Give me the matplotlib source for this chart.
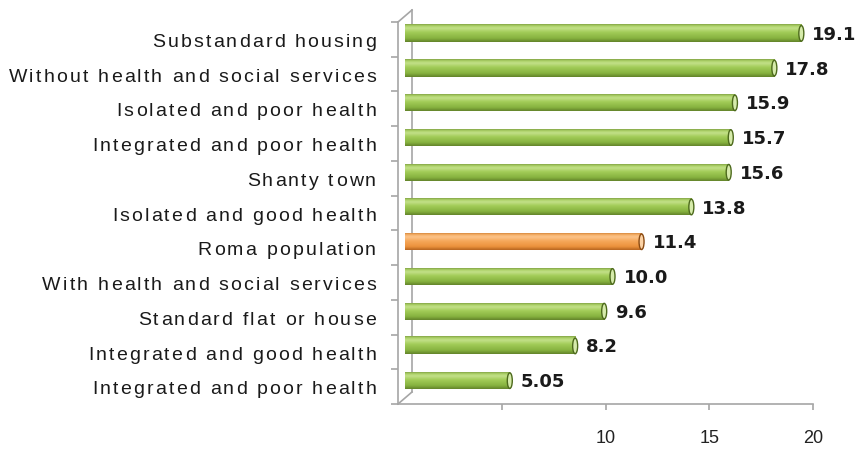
import numpy as np
import matplotlib
matplotlib.use('Agg')
import matplotlib.pyplot as plt
from matplotlib.colors import LinearSegmentedColormap
from matplotlib.patches import Ellipse
from matplotlib import transforms
from matplotlib.font_manager import FontProperties, findfont, get_font

# data, listed bottom to top
categories = ['Integrated and poor health', 'Integrated and good health',
              'Standard flat or house', 'With health and social services',
              'Roma population', 'Isolated and good health', 'Shanty town',
              'Integrated and poor health', 'Isolated and poor health',
              'Without health and social services', 'Substandard housing']
values = [5.05, 8.2, 9.6, 10.0, 11.4, 13.8, 15.6, 15.7, 15.9, 17.8, 19.1]
value_labels = ['5.05', '8.2', '9.6', '10.0', '11.4', '13.8', '15.6', '15.7', '15.9', '17.8', '19.1']
highlight = 'Roma population'
xticks = [5, 10, 15, 20]
xticklabels = ['', '10', '15', '20']

W, H, DPI = 867, 450, 100
fig = plt.figure(figsize=(W / DPI, H / DPI), dpi=DPI)
fig.patch.set_facecolor('white')
ax = fig.add_axes([398 / W, 1 - 404 / H, (813 - 398) / W, (404 - 22) / H])
ax.set_facecolor('none')

px_x = 20 / (813 - 398)          # data units per pixel, x
px_y = len(categories) / (404 - 22)  # data units per pixel, y
depth_x, depth_y = 14 * px_x, 12 * px_y

green = LinearSegmentedColormap.from_list('g', [
    (0.0, '#62822a'), (0.2, '#86b23f'), (0.55, '#a2cc58'), (0.78, '#c4e18a'), (0.92, '#a9cf63'), (1.0, '#7f9f44')])
orange = LinearSegmentedColormap.from_list('o', [
    (0.0, '#b5641f'), (0.2, '#ec923c'), (0.55, '#f6a95c'), (0.78, '#fcc48b'), (0.92, '#f5ae65'), (1.0, '#d2843c')])
grad = np.linspace(0, 1, 64).reshape(-1, 1)

bar_h = 17 * px_y
x0 = depth_x / 2
for i, (cat, v, lab) in enumerate(zip(categories, values, value_labels)):
    yc = i + depth_y / 2
    cmap = orange if cat == highlight else green
    ax.imshow(grad, cmap=cmap, origin='lower', aspect='auto', interpolation='bicubic',
              extent=[x0, x0 + v, yc - bar_h / 2, yc + bar_h / 2], zorder=2)
    cap_face = '#fcd3a6' if cat == highlight else '#d6ebab'
    cap_edge = '#8a4a12' if cat == highlight else '#4d6a1c'
    ax.add_patch(Ellipse((x0 + v, yc), 5 * px_x, bar_h * 0.92, facecolor=cap_face,
                         edgecolor=cap_edge, lw=1.0, zorder=3))
    ax.text(x0 + v + 11 * px_x, yc - 1.5 * px_y, lab, fontsize=13, fontweight='bold',
            family='DejaVu Sans', color='#1a1a1a', ha='left', va='center', zorder=4)

ax.set_xlim(0, 20)
ax.set_ylim(-0.5, len(categories) - 0.5)

# pseudo-3D frame
gray = '#a6a6a6'
top, bot = len(categories) - 0.5, -0.5
ax.plot([depth_x, depth_x], [bot + depth_y, top + depth_y], color=gray, lw=1.2, clip_on=False, zorder=1)
ax.plot([0, depth_x], [top, top + depth_y], color=gray, lw=1.2, clip_on=False, zorder=1)
ax.plot([0, depth_x], [bot, bot + depth_y], color=gray, lw=1.2, clip_on=False, zorder=1)

for s in ['top', 'right']:
    ax.spines[s].set_visible(False)
for s in ['left', 'bottom']:
    ax.spines[s].set_color(gray)
    ax.spines[s].set_linewidth(1.2)
ax.set_yticks(np.arange(-0.5, len(categories), 1.0))
ax.set_yticklabels([])
ax.tick_params(axis='y', length=5, width=1.2, color=gray, direction='out')
ax.set_xticks(xticks)
ax.set_xticklabels(xticklabels, family='Liberation Sans', fontsize=13, color='#222222')
ax.tick_params(axis='x', length=4, width=1.2, color=gray, direction='out', pad=15)

# category labels with letter spacing
prop = FontProperties(family='Liberation Sans', size=14)
font = get_font(findfont(prop))
font.set_size(14, DPI)
tracking = 2.2
right_px = 376
trans = transforms.blended_transform_factory(fig.transFigure, ax.transData)
for i, cat in enumerate(categories):
    adv = [font.load_char(ord(c)).linearHoriAdvance / 65536 for c in cat]
    total = sum(adv) + tracking * (len(cat) - 1)
    x = right_px - total
    for c, a in zip(cat, adv):
        if c != ' ':
            ax.text(x / W, i - 7.6 * px_y, c, transform=trans, fontproperties=prop,
                    color='#1a1a1a', ha='left', va='baseline')
        x += a + tracking

fig.savefig('out.png', dpi=DPI, facecolor='white')
